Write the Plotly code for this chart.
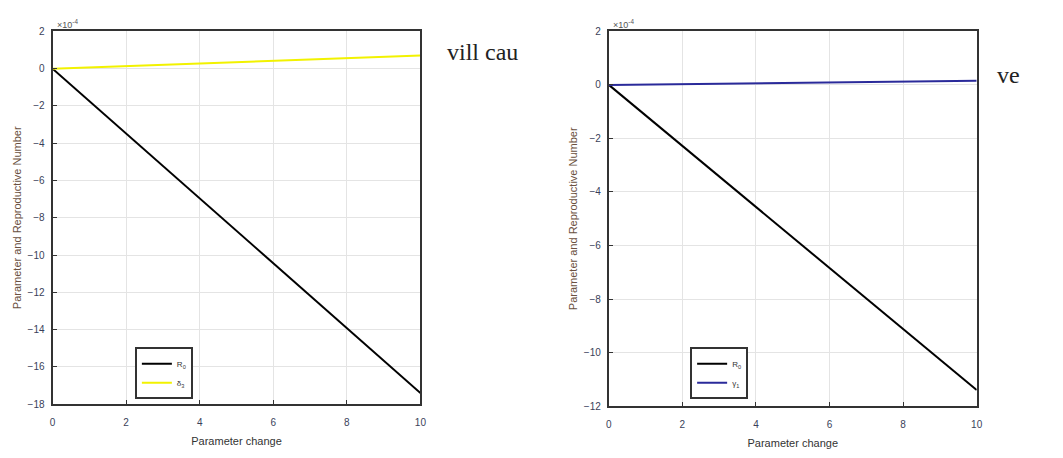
import plotly.graph_objects as go

# data
x_vals = [0, 10]
left_R0 = [0, -17.4]
left_delta3 = [0, 0.7]
right_R0 = [0, -11.4]
right_gamma1 = [0, 0.15]

left_yticks = [2, 0, -2, -4, -6, -8, -10, -12, -14, -16, -18]
right_yticks = [2, 0, -2, -4, -6, -8, -10, -12]
xticks = [0, 2, 4, 6, 8, 10]

W, H = 1063, 458
def px(x): return x / W
def py(y): return 1 - y / H

fig = go.Figure()
fig.add_trace(go.Scatter(x=x_vals, y=left_R0, mode="lines", line=dict(color="black", width=2),
                         name="R<sub>0</sub>", xaxis="x", yaxis="y", legend="legend"))
fig.add_trace(go.Scatter(x=x_vals, y=left_delta3, mode="lines", line=dict(color="#f2f200", width=2),
                         name="δ<sub>3</sub>", xaxis="x", yaxis="y", legend="legend"))
fig.add_trace(go.Scatter(x=x_vals, y=right_R0, mode="lines", line=dict(color="black", width=2),
                         name="R<sub>0</sub>", xaxis="x2", yaxis="y2", legend="legend2"))
fig.add_trace(go.Scatter(x=x_vals, y=right_gamma1, mode="lines", line=dict(color="#2a2a9a", width=2),
                         name="γ<sub>1</sub>", xaxis="x2", yaxis="y2", legend="legend2"))

tickfont = dict(family="Liberation Sans, Arial", size=10, color="#3a3f5a")
axis_common = dict(showline=True, linecolor="#333", linewidth=2, mirror=True, ticks="inside",
                   ticklen=4, tickcolor="#333", showgrid=True, gridcolor="#e4e4e4", gridwidth=1,
                   zeroline=False, tickfont=tickfont)
xtitle_font = dict(family="Liberation Sans, Arial", size=11, color="#333")
ytitle_font = dict(family="Liberation Sans, Arial", size=11, color="#6a5040")

fig.update_layout(
    width=W, height=H, margin=dict(l=0, r=0, t=0, b=0),
    paper_bgcolor="white", plot_bgcolor="white",
    xaxis=dict(domain=[px(50), px(421)], range=[0, 10], tickvals=xticks, anchor="y",
               ticklabelstandoff=8,
               title=dict(text="Parameter change", font=xtitle_font, standoff=10),
               **axis_common),
    yaxis=dict(domain=[py(409), py(27)], range=[-18, 2], tickvals=left_yticks, anchor="x",
               ticklabelstandoff=4,
               title=dict(text="Parameter and Reproductive Number", font=ytitle_font, standoff=4),
               **axis_common),
    xaxis2=dict(domain=[px(611), px(982)], range=[0, 10], tickvals=xticks, anchor="y2",
                ticklabelstandoff=8,
                title=dict(text="Parameter change", font=xtitle_font, standoff=10),
                **axis_common),
    yaxis2=dict(domain=[py(411), py(27)], range=[-12, 2], tickvals=right_yticks, anchor="x2",
                ticklabelstandoff=4,
                title=dict(text="Parameter and Reproductive Number", font=ytitle_font, standoff=4),
                **axis_common),
    legend=dict(x=px(133), y=py(404), xanchor="left", yanchor="bottom", bgcolor="white",
                bordercolor="#333", borderwidth=2, font=dict(family="Liberation Sans, Arial", size=8, color="#333"),
                tracegroupgap=0, itemwidth=30),
    legend2=dict(x=px(693), y=py(404), xanchor="left", yanchor="bottom", bgcolor="white",
                 bordercolor="#333", borderwidth=2, font=dict(family="Liberation Sans, Arial", size=8, color="#333"),
                 tracegroupgap=0, itemwidth=30),
    showlegend=True,
)

fig.add_annotation(x=px(52), y=py(19), xref="paper", yref="paper", text="×10<sup>-4</sup>", showarrow=False,
                   xanchor="left", yanchor="middle", font=dict(family="Liberation Sans, Arial", size=9, color="#555"))
fig.add_annotation(x=px(613), y=py(19), xref="paper", yref="paper", text="×10<sup>-4</sup>", showarrow=False,
                   xanchor="left", yanchor="middle", font=dict(family="Liberation Sans, Arial", size=9, color="#555"))
fig.add_annotation(x=px(446), y=py(48), xref="paper", yref="paper", text="vill cau", showarrow=False,
                   xanchor="left", yanchor="middle", font=dict(family="Liberation Serif, Times New Roman", size=24, color="#222"))
fig.add_annotation(x=px(1000), y=py(72), xref="paper", yref="paper", text="ve", showarrow=False,
                   xanchor="left", yanchor="middle", font=dict(family="Liberation Serif, Times New Roman", size=24, color="#222"))

fig.write_html("out.html")
